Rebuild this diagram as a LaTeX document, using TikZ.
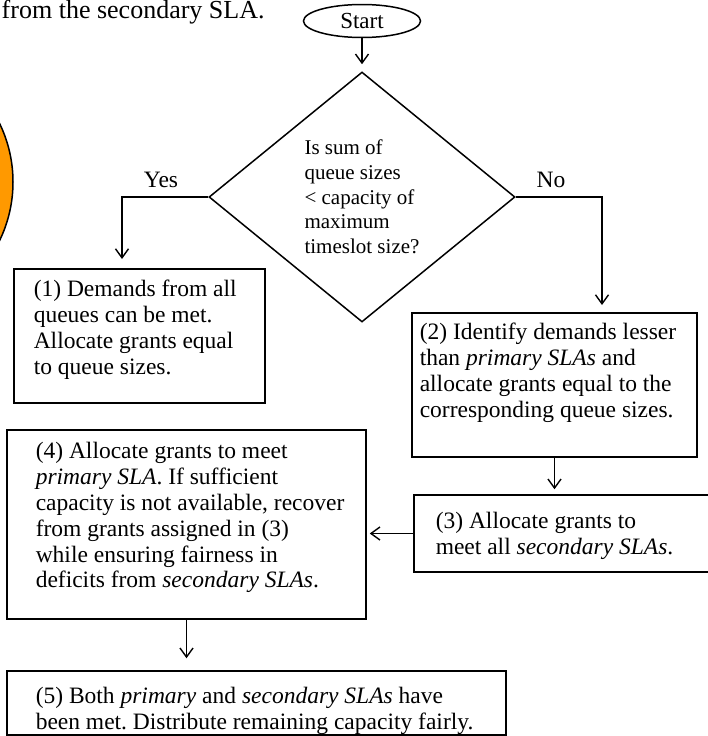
\documentclass[tikz,border=0pt]{standalone}
\usepackage{fontspec}
\setmainfont{Liberation Serif}
\usetikzlibrary{shapes.geometric,arrows.meta}
\definecolor{orangefill}{HTML}{FF9900}
\frenchspacing
\begin{document}
\begin{tikzpicture}[x=1pt,y=-1pt,
  line width=1.5pt,
  arr/.style={line width=1.4pt,-{Straight Barb[length=9pt,width=13pt,line width=1.4pt]}},
  box/.style={draw, rectangle, inner sep=0pt},
  boxtext/.style={anchor=north west, inner sep=0pt, align=left, font=\fontsize{23.5}{25.8}\selectfont},
  lbl/.style={inner sep=0pt, font=\fontsize{23.5}{25}\selectfont},
  decision/.style={draw, diamond, inner sep=0pt, align=left, font=\fontsize{21}{24.75}\selectfont},
  startstop/.style={draw, ellipse, inner sep=0pt, font=\fontsize{23}{25}\selectfont}
]
\useasboundingbox (0,0) rectangle (708,736);
\fill[white] (0,0) rectangle (708,736);

% partial elements at the left edge
\node[anchor=base west, inner sep=0pt, font=\fontsize{26}{30}\selectfont] (toptext) at (1,19) {from the secondary SLA.};
\node[circle, draw, fill=orangefill, minimum size=268pt, inner sep=0pt] (orb) at (-121,182) {};

% start and decision
\node[startstop, minimum width=117pt, minimum height=33pt] (start) at (362,21) {Start};
\node[decision, minimum width=306pt, minimum height=250pt] (dia) at (362,197)
  {Is sum of\\queue sizes\\{<} capacity of\\maximum\\timeslot size?};

% process boxes (frames)
\node[box, minimum width=251pt, minimum height=134pt] (b1) at (139.5,336) {};
\node[box, minimum width=285pt, minimum height=144pt] (b2) at (554.5,385) {};
\node[box, minimum width=296pt, minimum height=77pt]  (b3) at (562,533.5) {};
\node[box, minimum width=359pt, minimum height=189pt] (b4) at (186.5,524.5) {};
\node[box, minimum width=499pt, minimum height=64pt]  (b5) at (256.5,703) {};

% process texts
\node[boxtext] (t1) at (33,278) {\strut(1) Demands from all\\queues can be met.\\Allocate grants equal\\to queue sizes.};
\node[boxtext] (t2) at (419,321) {\strut(2) Identify demands lesser\\than \textit{primary SLAs} and\\allocate grants equal to the\\corresponding queue sizes.};
\node[boxtext] (t3) at (435,510) {\strut(3) Allocate grants to\\meet all \textit{secondary SLAs}.};
\node[boxtext] (t4) at (35,440) {\strut(4) Allocate grants to meet\\\textit{primary SLA}. If sufficient\\capacity is not available, recover\\from grants assigned in (3)\\while ensuring fairness in\\deficits from \textit{secondary SLAs}.};
\node[boxtext] (t5) at (35,685) {\strut(5) Both \textit{primary} and \textit{secondary SLAs} have\\been met. Distribute remaining capacity fairly.};

\node[lbl] (yes) at (161,180) {Yes};
\node[lbl] (no) at (551,180) {No};

\coordinate (yesend) at (122,259);
\coordinate (noend) at (602,305);

% connectors
\draw[arr, shorten >=7pt] (start) -- (dia);
\draw[arr] (dia.west) -| (yesend);
\draw[arr] (dia.east) -| (noend);
\draw[arr, shorten >=5pt] (b2.south) -- (b2.south |- b3.north);
\draw[arr, shorten >=3pt] (b3.west) -- (b3.west -| b4.east);
\draw[arr, shorten >=12pt] (b4.south) -- (b4.south |- b5.north);
\end{tikzpicture}
\end{document}
